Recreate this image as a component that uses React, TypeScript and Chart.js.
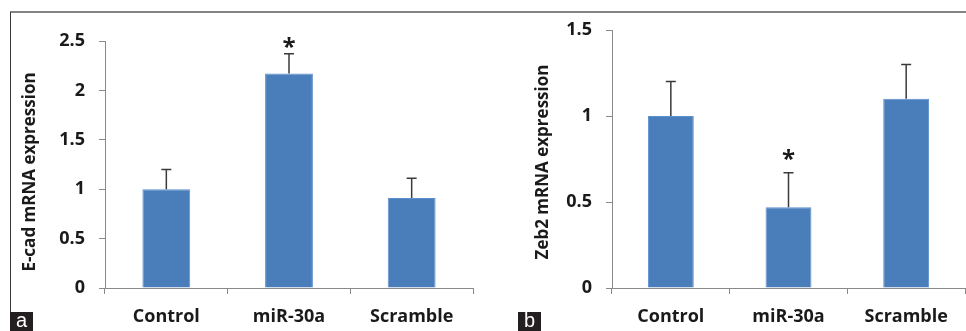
import React, { useEffect, useRef } from "react";
import { Chart, registerables } from "chart.js";

Chart.register(...registerables);

// ---- data ----
const categories = ["Control", "miR-30a", "Scramble"];

const ecadValues = [1.0, 2.17, 0.91];
const ecadErrors = [0.2, 0.2, 0.2];
const ecadStars = ["", "*", ""];
const ecadStarAt = [null, 2.49, null];
const ecadMax = 2.5;
const ecadTitle = "E-cad mRNA expression";

const zeb2Values = [1.0, 0.47, 1.1];
const zeb2Errors = [0.2, 0.2, 0.2];
const zeb2Stars = ["", "*", ""];
const zeb2StarAt = [null, 0.78, null];
const zeb2Max = 1.5;
const zeb2Title = "Zeb2 mRNA expression";

const tickStep = 0.5;

// ---- style ----
const FONT = "'Open Sans', Lato, sans-serif";
const BAR = "#4A7EBB";
const BAR_EDGE = "#5C8FCF";
const AXIS = "#8a8a8a";
const INK = "#1a1a1a";
const ERR = "#3a3a3a";

type PanelCfg = {
  values: number[];
  errors: number[];
  stars: string[];
  starAt: (number | null)[];
  max: number;
  title: string;
  yAxisWidth: number;
  padTop: number;
  padRight: number;
  titleX: number;
  titleY: number;
};

const extrasPlugin = {
  id: "extras",
  afterDatasetsDraw(chart: any, _args: any, opts: any) {
    const ctx = chart.ctx;
    const meta = chart.getDatasetMeta(0);
    const y = chart.scales.y;
    ctx.save();
    // error bars (upper only)
    ctx.strokeStyle = ERR;
    ctx.lineWidth = 1.5;
    opts.values.forEach((v: number, i: number) => {
      const bar = meta.data[i];
      const top = y.getPixelForValue(v + opts.errors[i]);
      const base = y.getPixelForValue(v);
      ctx.beginPath();
      ctx.moveTo(bar.x, base);
      ctx.lineTo(bar.x, top);
      ctx.moveTo(bar.x - 5, top);
      ctx.lineTo(bar.x + 5, top);
      ctx.stroke();
    });
    // significance stars
    ctx.fillStyle = INK;
    ctx.font = `bold 24px ${FONT}`;
    ctx.textAlign = "center";
    ctx.textBaseline = "middle";
    opts.stars.forEach((s: string, i: number) => {
      const at = opts.starAt[i];
      if (!s || at == null) return;
      const bar = meta.data[i];
      ctx.fillText(s, bar.x, y.getPixelForValue(at) + 6);
    });
    // y-axis title
    ctx.translate(opts.titleX, opts.titleY);
    ctx.rotate(-Math.PI / 2);
    ctx.font = `bold 17px ${FONT}`;
    ctx.textAlign = "center";
    ctx.textBaseline = "middle";
    ctx.fillText(opts.title, 0, 0);
    ctx.restore();
  },
};

function Panel({ cfg, left }: { cfg: PanelCfg; left: number }) {
  const ref = useRef<HTMLCanvasElement>(null);
  useEffect(() => {
    const chart = new Chart(ref.current as HTMLCanvasElement, {
      type: "bar",
      data: {
        labels: categories,
        datasets: [
          {
            data: cfg.values,
            backgroundColor: BAR,
            borderColor: BAR_EDGE,
            borderWidth: 1,
            categoryPercentage: 1,
            barPercentage: 0.39,
          },
        ],
      },
      plugins: [extrasPlugin],
      options: {
        animation: false,
        responsive: false,
        devicePixelRatio: 1,
        layout: { padding: { top: cfg.padTop, right: cfg.padRight, bottom: 0, left: 0 } },
        plugins: {
          legend: { display: false },
          tooltip: { enabled: false },
          extras: cfg,
        } as any,
        scales: {
          x: {
            offset: true,
            grid: {
              display: true,
              offset: true,
              drawOnChartArea: false,
              drawTicks: true,
              tickLength: 6,
              color: AXIS,
            },
            border: { display: true, color: AXIS, width: 1 },
            ticks: {
              color: INK,
              padding: 12,
              maxRotation: 0,
              font: { family: FONT, size: 18, weight: "bold" },
            },
            afterFit: (s: any) => {
              s.height = 43;
            },
          },
          y: {
            min: 0,
            max: cfg.max,
            grid: {
              display: true,
              drawOnChartArea: false,
              drawTicks: true,
              tickLength: 6,
              color: AXIS,
            },
            border: { display: true, color: AXIS, width: 1 },
            ticks: {
              stepSize: tickStep,
              color: INK,
              padding: 14,
              font: { family: FONT, size: 18, weight: "bold" },
              callback: (v: any) => String(Number(v)),
            },
            afterFit: (s: any) => {
              s.width = cfg.yAxisWidth;
            },
          },
        },
      } as any,
    });
    return () => chart.destroy();
  }, []);
  return (
    <div style={{ position: "absolute", left, top: 0, width: 483, height: 331 }}>
      <canvas ref={ref} width={483} height={331} style={{ width: 483, height: 331 }} />
    </div>
  );
}

const leftCfg: PanelCfg = {
  values: ecadValues,
  errors: ecadErrors,
  stars: ecadStars,
  starAt: ecadStarAt,
  max: ecadMax,
  title: ecadTitle,
  yAxisWidth: 105,
  padTop: 41,
  padRight: 10,
  titleX: 30,
  titleY: 172,
};

const rightCfg: PanelCfg = {
  values: zeb2Values,
  errors: zeb2Errors,
  stars: zeb2Stars,
  starAt: zeb2StarAt,
  max: zeb2Max,
  title: zeb2Title,
  yAxisWidth: 129,
  padTop: 30,
  padRight: 1,
  titleX: 60,
  titleY: 162,
};

const tagStyle: React.CSSProperties = {
  position: "absolute",
  top: 312,
  width: 23,
  height: 19,
  background: "#231f20",
  color: "#ffffff",
  fontFamily: "'Liberation Sans', Arial, sans-serif",
  fontSize: 20,
  lineHeight: "17px",
  textAlign: "center",
};

export default function App() {
  return (
    <div style={{ position: "absolute", left: 0, top: 0, width: 966, height: 331, background: "#fff", overflow: "hidden" }}>
      <Panel cfg={leftCfg} left={0} />
      <Panel cfg={rightCfg} left={483} />
      <div style={{ position: "absolute", left: 10, top: 11, width: 956, height: 2, background: "#858585" }} />
      <div style={{ position: "absolute", left: 10, top: 12, width: 1, height: 300, background: "#3a3a3a" }} />
      <div style={{ ...tagStyle, left: 10 }}>a</div>
      <div style={{ ...tagStyle, left: 518 }}>b</div>
    </div>
  );
}
